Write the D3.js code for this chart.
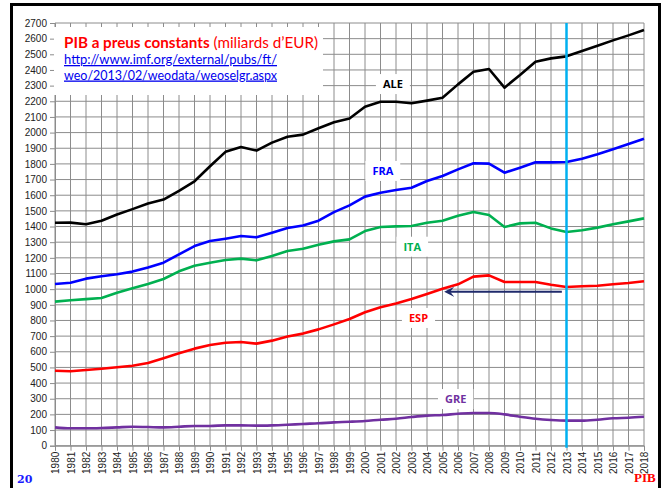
<!DOCTYPE html>
<html>
<head>
<meta charset="utf-8">
<script src="https://cdn.jsdelivr.net/npm/d3@7"></script>
<style>
  body { margin: 0; background: #fff; }
  svg { display: block; }
</style>
</head>
<body>
<svg width="667" height="488"></svg>
<script>
// data (miliards d'EUR)
var years = [1980, 1981, 1982, 1983, 1984, 1985, 1986, 1987, 1988, 1989,
  1990, 1991, 1992, 1993, 1994, 1995, 1996, 1997, 1998, 1999,
  2000, 2001, 2002, 2003, 2004, 2005, 2006, 2007, 2008, 2009,
  2010, 2011, 2012, 2013, 2014, 2015, 2016, 2017, 2018];
var ale = [1424, 1425, 1415, 1437, 1477, 1511, 1547, 1572, 1628, 1689,
  1785, 1877, 1908, 1885, 1936, 1973, 1987, 2028, 2066, 2090,
  2165, 2197, 2197, 2187, 2204, 2223, 2308, 2389, 2406, 2287,
  2368, 2453, 2474, 2487, 2521, 2555, 2589, 2621, 2655];
var fra = [1033, 1041, 1067, 1082, 1095, 1112, 1139, 1169, 1222, 1275,
  1307, 1322, 1339, 1331, 1360, 1390, 1407, 1437, 1492, 1535,
  1591, 1616, 1633, 1648, 1691, 1723, 1765, 1804, 1802, 1744,
  1776, 1810, 1810, 1812, 1833, 1861, 1893, 1927, 1961];
var ita = [920, 929, 936, 943, 977, 1005, 1033, 1065, 1114, 1150,
  1169, 1186, 1195, 1184, 1212, 1244, 1258, 1284, 1305, 1318,
  1371, 1397, 1401, 1403, 1424, 1437, 1469, 1493, 1474, 1397,
  1420, 1424, 1388, 1365, 1376, 1393, 1414, 1433, 1452];
var esp = [479, 476, 484, 492, 501, 511, 528, 558, 590, 620,
  643, 658, 662, 652, 671, 697, 716, 743, 775, 809,
  852, 884, 909, 937, 969, 1003, 1031, 1080, 1088, 1046,
  1046, 1046, 1028, 1014, 1018, 1022, 1031, 1039, 1050];
var gre = [117, 111, 111, 113, 117, 121, 119, 117, 121, 126,
  126, 130, 130, 128, 130, 134, 139, 143, 149, 153,
  158, 166, 172, 183, 192, 196, 204, 209, 209, 200,
  185, 172, 164, 160, 160, 166, 175, 179, 185];
var yTicks = [0, 100, 200, 300, 400, 500, 600, 700, 800, 900, 1000, 1100, 1200, 1300,
  1400, 1500, 1600, 1700, 1800, 1900, 2000, 2100, 2200, 2300, 2400, 2500, 2600, 2700];

var series = [
  { name: "ALE", values: ale, color: "#000000", lx: 2001.8, ly: 2310 },
  { name: "FRA", values: fra, color: "#0000ff", lx: 2001.15, ly: 1755 },
  { name: "ITA", values: ita, color: "#00b050", lx: 2003.05, ly: 1271 },
  { name: "ESP", values: esp, color: "#ff0000", lx: 2003.45, ly: 816 },
  { name: "GRE", values: gre, color: "#7030a0", lx: 2005.85, ly: 298 }
];
var markYear = 2013;

var svg = d3.select("svg");
var font = "'Liberation Sans', Arial, sans-serif";

var x = d3.scaleLinear().domain([1980, 2018]).range([55, 644]);
var y = d3.scaleLinear().domain([0, 2700]).range([445.7, 23]);

// outer frame
svg.append("rect")
  .attr("x", 11.5).attr("y", 4.5)
  .attr("width", 648).attr("height", 500)
  .attr("fill", "none").attr("stroke", "#000").attr("stroke-width", 3);

// grid
var grid = svg.append("g").attr("stroke", "#8c8c8c").attr("stroke-width", 1);
grid.selectAll(".gx").data(years).enter().append("line")
  .attr("x1", function (d) { return x(d); }).attr("x2", function (d) { return x(d); })
  .attr("y1", y(2700)).attr("y2", y(0));
grid.selectAll(".gy").data(yTicks).enter().append("line")
  .attr("x1", x(1980)).attr("x2", x(2018))
  .attr("y1", function (d) { return y(d); }).attr("y2", function (d) { return y(d); });

// axes
var yAxis = svg.append("g")
  .attr("transform", "translate(" + x(1980) + ",0)")
  .call(d3.axisLeft(y).tickValues(yTicks).tickFormat(d3.format("d")).tickSize(5).tickPadding(3));
var xAxis = svg.append("g")
  .attr("transform", "translate(0," + y(0) + ")")
  .call(d3.axisBottom(x).tickValues(years).tickFormat(d3.format("d")).tickSize(5));
[yAxis, xAxis].forEach(function (a) {
  a.select(".domain").attr("stroke", "#8c8c8c");
  a.selectAll(".tick line").attr("stroke", "#8c8c8c");
  a.selectAll("text").attr("font-family", font).attr("font-size", 10).attr("fill", "#222");
});
xAxis.selectAll("text")
  .attr("transform", "rotate(-90)")
  .attr("text-anchor", "end")
  .attr("x", -6).attr("y", 0).attr("dy", "0.35em");

// title box
svg.append("rect")
  .attr("x", 54).attr("y", 27).attr("width", 269).attr("height", 68)
  .attr("fill", "#fff");
var title = svg.append("text")
  .attr("x", 64).attr("y", 48)
  .attr("font-family", "Lato, 'Open Sans', sans-serif")
  .attr("font-size", 15).attr("fill", "#ff0000")
  .attr("textLength", 254).attr("lengthAdjust", "spacingAndGlyphs");
title.append("tspan").attr("font-weight", "bold").text("PIB a preus constants");
title.append("tspan").text(" (miliards d\u2019EUR)");
["http://www.imf.org/external/pubs/ft/", "weo/2013/02/weodata/weoselgr.aspx"].forEach(function (t, i) {
  svg.append("text")
    .attr("x", 64).attr("y", 64 + i * 15.5)
    .attr("font-family", "Lato, 'Open Sans', sans-serif")
    .attr("font-size", 13).attr("fill", "#0000ee")
    .attr("text-decoration", "underline")
    .attr("textLength", 213).attr("lengthAdjust", "spacingAndGlyphs")
    .text(t);
});

// lines
var line = d3.line()
  .x(function (d, i) { return x(years[i]); })
  .y(function (d) { return y(d); });
series.forEach(function (s) {
  svg.append("path")
    .datum(s.values)
    .attr("fill", "none")
    .attr("stroke", s.color)
    .attr("stroke-width", 2.6)
    .attr("stroke-linejoin", "round")
    .attr("d", s.name === "GRE" ? line.curve(d3.curveMonotoneX)(s.values) : line.curve(d3.curveLinear)(s.values));
});

// 2013 marker
svg.append("line")
  .attr("x1", x(markYear)).attr("x2", x(markYear))
  .attr("y1", y(2700)).attr("y2", y(0) + 2)
  .attr("stroke", "#00b0f0").attr("stroke-width", 2.5);

// arrow back to 2005
svg.append("defs").append("marker")
  .attr("id", "head").attr("viewBox", "0 0 10 10")
  .attr("refX", 7).attr("refY", 5)
  .attr("markerWidth", 5).attr("markerHeight", 5)
  .attr("markerUnits", "strokeWidth")
  .attr("orient", "auto")
  .append("path").attr("d", "M0,0 L10,5 L0,10 L4,5 Z").attr("fill", "#1f2a6b");
svg.append("line")
  .attr("x1", x(2012.7)).attr("x2", x(2005.3))
  .attr("y1", y(983)).attr("y2", y(983))
  .attr("stroke", "#1f2a6b").attr("stroke-width", 2)
  .attr("marker-end", "url(#head)");

// series labels
series.forEach(function (s) {
  var g = svg.append("g").attr("transform", "translate(" + x(s.lx) + "," + y(s.ly) + ")");
  var t = g.append("text")
    .attr("text-anchor", "middle").attr("dy", "0.35em")
    .attr("font-family", "'Open Sans', sans-serif").attr("font-weight", "bold")
    .attr("font-size", 11).attr("fill", s.color)
    .text(s.name);
  var w = t.node().getComputedTextLength();
  g.insert("rect", "text")
    .attr("x", -w / 2 - 7).attr("y", -10).attr("width", w + 14).attr("height", 20)
    .attr("fill", "#fff");
});

// corner notes
svg.append("text")
  .attr("x", 17).attr("y", 483)
  .attr("font-family", "'DejaVu Serif', serif").attr("font-weight", "bold")
  .attr("font-size", 11).attr("fill", "#1a1aff").text("20");
svg.append("text")
  .attr("x", 634).attr("y", 482)
  .attr("font-family", "'Liberation Serif', serif").attr("font-weight", "bold")
  .attr("font-size", 13).attr("fill", "#ff0000").text("PIB");
</script>
</body>
</html>
